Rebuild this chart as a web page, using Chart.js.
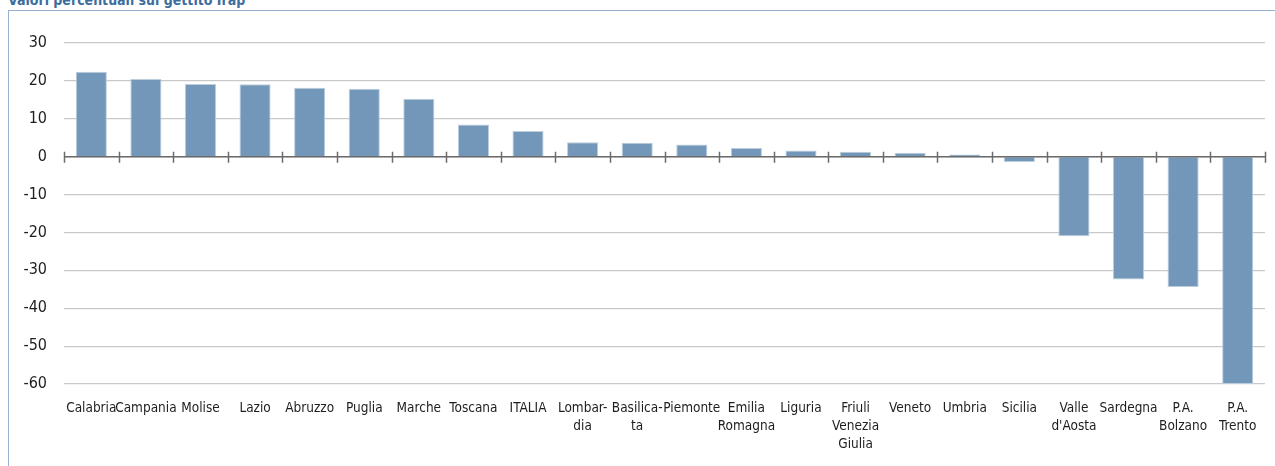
<!DOCTYPE html>
<html lang="it">
<head>
    <meta charset="UTF-8">
    <title>Valori percentuali sul gettito Irap</title>
    <script src="https://cdn.jsdelivr.net/npm/chart.js"></script>
    <style>
        html, body { margin: 0; padding: 0; background: #fff; overflow: hidden; }
        #wrap { position: relative; width: 1275px; height: 466px; }
        #frame {
            position: absolute; left: 8px; top: 10px; right: -2px; bottom: -2px;
            border-left: 1.5px solid #94b2cd; border-top: 1.5px solid #94b2cd;
        }
        #title {
            position: absolute; left: 8px; top: -7px;
            font-family: "DejaVu Sans Condensed", "Liberation Sans Narrow", sans-serif;
            font-size: 14px; font-weight: 600; line-height: 14px; color: #3d6d9c;
            white-space: nowrap;
        }
        #box { position: absolute; left: 0; top: 0; width: 1275px; height: 466px; }
    </style>
</head>
<body>
<div id="wrap">
    <div id="frame"></div>
    <div id="title">Valori percentuali sul gettito Irap</div>
    <div id="box"><canvas id="irapChart"></canvas></div>
</div>

<script>
    // regioni (etichette asse x, anche su più righe)
    const regions = [
        'Calabria', 'Campania', 'Molise', 'Lazio', 'Abruzzo', 'Puglia', 'Marche',
        'Toscana', 'ITALIA', ['Lombar-', 'dia'], ['Basilica-', 'ta'], 'Piemonte',
        ['Emilia', 'Romagna'], 'Liguria', ['Friuli', 'Venezia', 'Giulia'], 'Veneto',
        'Umbria', 'Sicilia', ['Valle', "d'Aosta"], 'Sardegna', ['P.A.', 'Bolzano'],
        ['P.A.', 'Trento']
    ];
    // valori percentuali
    const values = [
        22.4, 20.5, 19.2, 19.1, 18.2, 17.9, 15.3,
        8.5, 6.8, 3.8, 3.7, 3.2,
        2.3, 1.6, 1.3, 1.05,
        0.6, -1.4, -21.0, -32.4, -34.4,
        -60.0
    ];
    const yMin = -60, yMax = 30, yStep = 10;

    const FONT = '"DejaVu Sans Condensed", "Liberation Sans Narrow", sans-serif';

    // asse dello zero con le tacche tra le categorie
    const zeroAxis = {
        id: 'zeroAxis',
        afterDatasetsDraw(chart) {
            const x = chart.scales.x, y = chart.scales.y;
            const y0 = y.getPixelForValue(0);
            const ctx = chart.ctx;
            const n = regions.length;
            const w = x.width / n;
            ctx.save();
            ctx.strokeStyle = '#6b6b6b';
            ctx.lineWidth = 1.5;
            ctx.beginPath();
            ctx.moveTo(x.left, y0);
            ctx.lineTo(x.right, y0);
            for (let i = 0; i <= n; i++) {
                const px = Math.round(x.left + i * w) + 0.5;
                ctx.moveTo(px, y0 - 5);
                ctx.lineTo(px, y0 + 6);
            }
            ctx.stroke();
            ctx.restore();
        }
    };

    new Chart(document.getElementById('irapChart'), {
        type: 'bar',
        data: {
            labels: regions,
            datasets: [{
                data: values,
                backgroundColor: '#7397b9',
                borderColor: '#bccddd',
                borderWidth: 1,
                categoryPercentage: 1,
                barPercentage: 0.57
            }]
        },
        options: {
            responsive: true,
            maintainAspectRatio: false,
            animation: false,
            layout: { padding: { top: 43, right: 10, bottom: 0, left: 0 } },
            plugins: {
                legend: { display: false },
                tooltip: { enabled: false }
            },
            scales: {
                x: {
                    grid: { display: false, drawTicks: false },
                    border: { display: false },
                    ticks: {
                        autoSkip: false,
                        maxRotation: 0,
                        minRotation: 0,
                        padding: 16,
                        color: '#1e1e1e',
                        font: { family: FONT, size: 13.5, lineHeight: 1.33 }
                    },
                    afterFit(scale) { scale.height = 82; }
                },
                y: {
                    min: yMin,
                    max: yMax,
                    grid: { color: '#c9c9c9', lineWidth: 1.2, drawTicks: false },
                    border: { display: false },
                    ticks: {
                        stepSize: yStep,
                        padding: 17,
                        color: '#1e1e1e',
                        font: { family: FONT, size: 16 }
                    },
                    afterFit(scale) { scale.width = 64; }
                }
            }
        },
        plugins: [zeroAxis]
    });
</script>
</body>
</html>
